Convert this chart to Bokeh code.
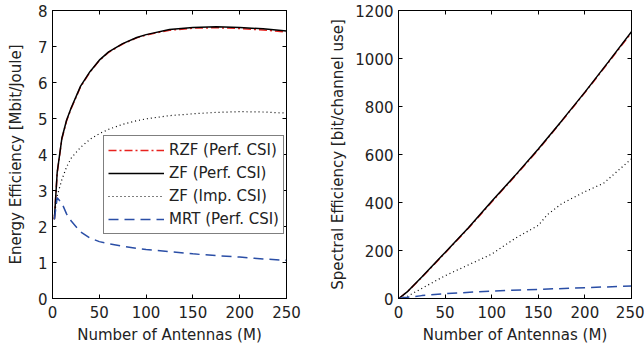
from bokeh.plotting import figure
from bokeh.models import LinearAxis, Legend, LegendItem, FixedTicker, Range1d
from bokeh.layouts import row
from bokeh.embed import file_html
from bokeh.resources import INLINE

# ---------------- data ----------------
# Left panel: Energy efficiency [Mbit/Joule] vs number of antennas M
M_ee = [2, 5, 10, 15, 20, 30, 40, 50, 60, 75, 90, 100, 125, 150, 175, 200, 225, 250]
ee_rzf_perf = [2.2, 3.48, 4.43, 4.93, 5.28, 5.88, 6.29, 6.61, 6.84, 7.07, 7.24, 7.32, 7.45, 7.51, 7.52, 7.50, 7.46, 7.40]
ee_zf_perf = [2.2, 3.5, 4.45, 4.95, 5.3, 5.9, 6.3, 6.62, 6.85, 7.08, 7.25, 7.33, 7.47, 7.53, 7.55, 7.53, 7.49, 7.43]
ee_zf_imp = [2.3, 2.85, 3.3, 3.65, 3.9, 4.2, 4.42, 4.58, 4.7, 4.84, 4.94, 4.99, 5.08, 5.13, 5.17, 5.19, 5.18, 5.15]
ee_mrt_perf = [2.2, 2.8, 2.65, 2.35, 2.15, 1.85, 1.68, 1.58, 1.52, 1.45, 1.39, 1.36, 1.30, 1.24, 1.19, 1.15, 1.10, 1.06]

# Right panel: Spectral efficiency [bit/channel use] vs number of antennas M
M_se = [1, 10, 25, 50, 75, 100, 125, 150, 175, 200, 225, 250]
se_rzf_perf = [2, 30, 88, 190, 293, 402, 510, 620, 738, 858, 982, 1108]
se_zf_perf = [2, 30, 90, 192, 295, 405, 512, 623, 740, 860, 985, 1112]
M_se_imp = [1, 10, 25, 50, 75, 100, 125, 150, 160, 175, 200, 220, 250]
se_zf_imp = [1, 10, 42, 95, 140, 185, 250, 305, 350, 395, 445, 480, 582]
M_se_mrt = [1, 10, 25, 50, 100, 150, 200, 250]
se_mrt_perf = [1, 5, 12, 20, 31, 38, 45, 52]

x_ticks = [0, 50, 100, 150, 200, 250]
ee_ticks = [0, 1, 2, 3, 4, 5, 6, 7, 8]
se_ticks = [0, 200, 400, 600, 800, 1000, 1200]

series_names = ["RZF (Perf. CSI)", "ZF (Perf. CSI)", "ZF (Imp. CSI)", "MRT (Perf. CSI)"]

# ---------------- style ----------------
FONT = "DejaVu Sans"
RED = "#e8221e"
BLACK = "#000000"
BLUE = "#2a4ea6"
TXT = "#222222"


def style_axis(ax):
    ax.major_tick_in = 4
    ax.major_tick_out = 0
    ax.minor_tick_line_color = None
    ax.axis_line_color = "black"
    ax.major_tick_line_color = "black"
    ax.major_label_text_font = FONT
    ax.major_label_text_font_size = "15px"
    ax.major_label_text_color = TXT
    ax.axis_label_text_font = FONT
    ax.axis_label_text_font_size = "15px"
    ax.axis_label_text_font_style = "normal"
    ax.axis_label_text_color = TXT


def mirror_axis(ticks):
    # tick marks only (drawn as minor ticks, so no labels at all)
    ax = LinearAxis(ticker=FixedTicker(ticks=[], minor_ticks=ticks))
    ax.axis_line_color = "black"
    ax.major_tick_line_color = None
    ax.minor_tick_line_color = "black"
    ax.minor_tick_in = 4
    ax.minor_tick_out = 0
    ax.major_label_standoff = 0
    return ax


def make_fig(width, border_left, border_right, ymax, yticks, ylabel, y_label_standoff):
    p = figure(width=width, height=346, output_backend="svg", toolbar_location=None,
               x_range=Range1d(0, 250), y_range=Range1d(0, ymax),
               min_border_left=border_left, min_border_right=border_right,
               min_border_top=10, min_border_bottom=45)
    p.grid.visible = False
    p.outline_line_color = "black"
    p.outline_line_width = 1
    p.background_fill_color = "white"
    p.border_fill_color = "white"
    p.xaxis.ticker = FixedTicker(ticks=x_ticks)
    p.yaxis.ticker = FixedTicker(ticks=yticks)
    p.xaxis.axis_label = "Number of Antennas (M)"
    p.yaxis.axis_label = ylabel
    for ax in p.xaxis:
        style_axis(ax)
        ax.major_label_standoff = 7
        ax.axis_label_standoff = 5
    for ax in p.yaxis:
        style_axis(ax)
        ax.major_label_standoff = 5
        ax.axis_label_standoff = y_label_standoff
    p.add_layout(mirror_axis(x_ticks), "above")
    p.add_layout(mirror_axis(yticks), "right")
    return p


# ---------------- left: energy efficiency ----------------
p1 = make_fig(326, 52, 40, 8, ee_ticks, "Energy Efficiency [Mbit/Joule]", 10)
r1 = p1.line(M_ee, ee_rzf_perf, line_color=RED, line_width=1.5, line_dash="8 3 2 3")
r2 = p1.line(M_ee, ee_zf_perf, line_color=BLACK, line_width=1.5)
r3 = p1.line(M_ee, ee_zf_imp, line_color=BLACK, line_width=1.2, line_dash="1 3")
r4 = p1.line(M_ee, ee_mrt_perf, line_color=BLUE, line_width=1.5, line_dash="10 6")

legend = Legend(items=[LegendItem(label=series_names[0], renderers=[r1]),
                       LegendItem(label=series_names[1], renderers=[r2]),
                       LegendItem(label=series_names[2], renderers=[r3]),
                       LegendItem(label=series_names[3], renderers=[r4])],
                location=(51, 64))
legend.border_line_color = "black"
legend.border_line_width = 1
legend.background_fill_color = "white"
legend.background_fill_alpha = 1
legend.label_text_font = FONT
legend.label_text_font_size = "15px"
legend.label_text_color = TXT
legend.glyph_width = 56
legend.glyph_height = 20
legend.label_height = 20
legend.label_standoff = 5
legend.spacing = 3
legend.padding = 4
legend.margin = 0
p1.add_layout(legend)

# ---------------- right: spectral efficiency ----------------
p2 = make_fig(318, 66, 13, 1200, se_ticks, "Spectral Efficiency [bit/channel use]", 5)
p2.line(M_se, se_rzf_perf, line_color=RED, line_width=1.5, line_dash="8 3 2 3")
p2.line(M_se, se_zf_perf, line_color=BLACK, line_width=1.5)
p2.line(M_se_imp, se_zf_imp, line_color=BLACK, line_width=1.2, line_dash="1 3")
p2.line(M_se_mrt, se_mrt_perf, line_color=BLUE, line_width=1.5, line_dash="10 6")

layout = row(p1, p2)
open("out.html", "w").write(file_html(layout, INLINE))
